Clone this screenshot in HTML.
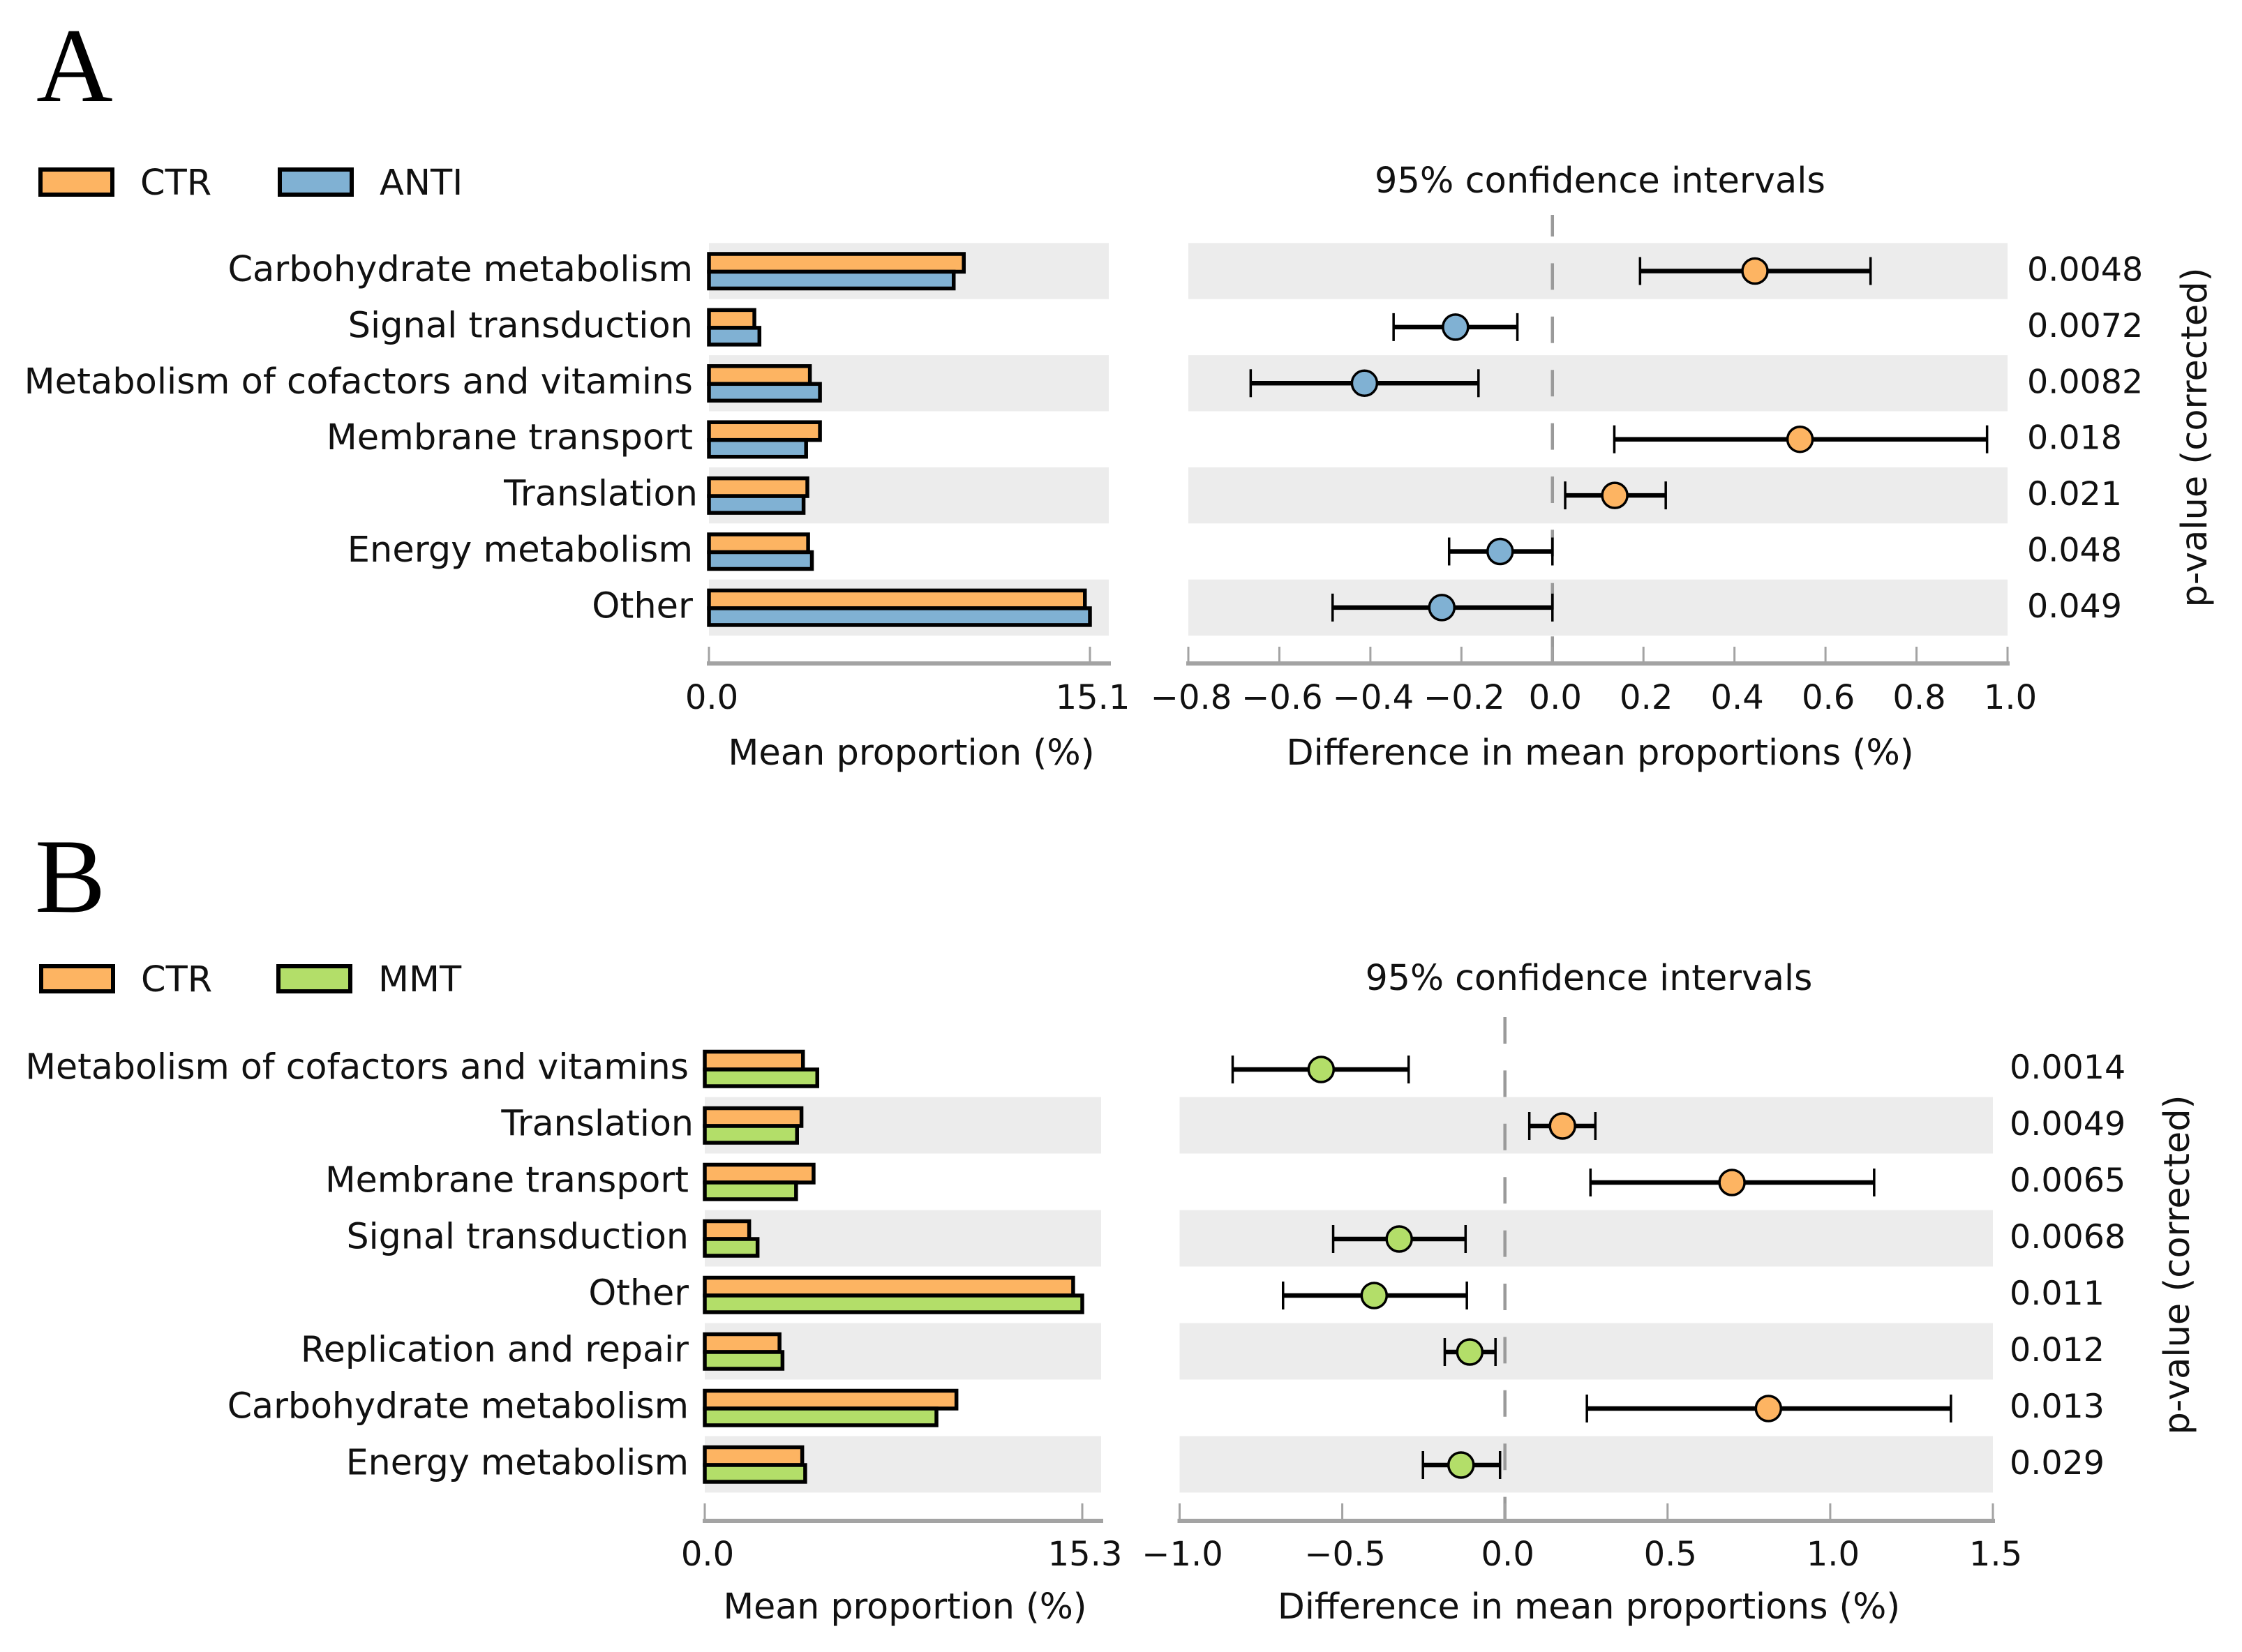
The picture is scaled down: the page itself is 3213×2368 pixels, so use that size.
<!DOCTYPE html>
<html lang="en">
<head>
<meta charset="utf-8">
<title>Mean proportion and difference in mean proportions</title>
<style>
  html, body { margin: 0; padding: 0; background: #fff; }
  svg { display: block; }
  text { font-family: "DejaVu Sans", "Liberation Sans", sans-serif; fill: #111; }
  .letter { font-family: "Liberation Serif", serif; font-size: 152px; fill: #000; }
</style>
</head>
<body>
<svg id="chart" xmlns="http://www.w3.org/2000/svg" width="3213" height="2368" viewBox="0 0 3213 2368">
  <rect x="0" y="0" width="3213" height="2368" fill="#fff"/>
  <text class="letter" x="52" y="145">A</text>
  <text class="letter" x="50" y="1307">B</text>
</svg>
<script>
// Panel A data
const categoriesA = ["Carbohydrate metabolism", "Signal transduction", "Metabolism of cofactors and vitamins", "Membrane transport", "Translation", "Energy metabolism", "Other"];
const ctrMeansA = [10.1, 1.8, 4.0, 4.4, 3.9, 3.93, 14.9];
const antiMeansA = [9.7, 2.0, 4.4, 3.85, 3.75, 4.08, 15.1];
const diffMeansA = [0.445, -0.213, -0.413, 0.544, 0.137, -0.115, -0.243];
const diffLowA = [0.1925, -0.349, -0.663, 0.136, 0.028, -0.227, -0.483];
const diffHighA = [0.699, -0.077, -0.1625, 0.955, 0.249, 0, 0];
const pValuesA = ["0.0048", "0.0072", "0.0082", "0.018", "0.021", "0.048", "0.049"];
const meanTicksA = [0, 15.1];
const meanTickLabelsA = ["0.0", "15.1"];
const diffTicksA = [-0.8, -0.6, -0.4, -0.2, 0, 0.2, 0.4, 0.6, 0.8, 1];
const diffTickLabelsA = ["\u22120.8", "\u22120.6", "\u22120.4", "\u22120.2", "0.0", "0.2", "0.4", "0.6", "0.8", "1.0"];

// Panel B data
const categoriesB = ["Metabolism of cofactors and vitamins", "Translation", "Membrane transport", "Signal transduction", "Other", "Replication and repair", "Carbohydrate metabolism", "Energy metabolism"];
const ctrMeansB = [3.98, 3.92, 4.41, 1.8, 14.93, 3.03, 10.2, 3.95];
const mmtMeansB = [4.56, 3.74, 3.7, 2.14, 15.3, 3.15, 9.39, 4.07];
const diffMeansB = [-0.565, 0.177, 0.698, -0.325, -0.402, -0.108, 0.81, -0.135];
const diffLowB = [-0.837, 0.075, 0.263, -0.528, -0.682, -0.185, 0.252, -0.252];
const diffHighB = [-0.296, 0.278, 1.135, -0.121, -0.117, -0.029, 1.371, -0.015];
const pValuesB = ["0.0014", "0.0049", "0.0065", "0.0068", "0.011", "0.012", "0.013", "0.029"];
const meanTicksB = [0, 15.3];
const meanTickLabelsB = ["0.0", "15.3"];
const diffTicksB = [-1, -0.5, 0, 0.5, 1, 1.5];
const diffTickLabelsB = ["\u22121.0", "\u22120.5", "0.0", "0.5", "1.0", "1.5"];

const CTR_COLOR = "#fdb462";
const BLUE_COLOR = "#80b1d3";
const GREEN_COLOR = "#b3de69";
const BAND_COLOR = "#ececec";
const AXIS_COLOR = "#a3a3a3";
const TICK_FONT = 48;
const P_FONT = 47.5;
const NS = "http://www.w3.org/2000/svg";
const svg = document.getElementById("chart");

function make(tag, attrs, text) {
  const node = document.createElementNS(NS, tag);
  for (const key in attrs) node.setAttribute(key, attrs[key]);
  if (text !== undefined) node.textContent = text;
  svg.appendChild(node);
  return node;
}
function linear(d0, r0, d1, r1) {
  return function (v) { return r0 + (v - d0) * (r1 - r0) / (d1 - d0); };
}
function slug(s) {
  return s.toLowerCase().replace(/[^a-z0-9]+/g, "-").replace(/^-|-$/g, "");
}

function drawAxis(p, name, ticks, labels, scale, xStart, xEnd, title, titleX) {
  const line = make("rect", { x: xStart, y: p.axisY - 3, width: xEnd - xStart, height: 6, fill: AXIS_COLOR });
  
  
  ticks.forEach(function (t, i) {
    const x = scale(t);
    const tick = make("line", { x1: x, x2: x, y1: p.tickTop, y2: p.axisY, stroke: AXIS_COLOR, "stroke-width": 3 });
    
    
    const label = make("text", { x: x + 4, y: p.tickBaseline, "text-anchor": "middle", "font-size": TICK_FONT }, labels[i]);
    
    
  });
  const axisTitle = make("text", { x: titleX, y: p.titleBaseline, "text-anchor": "middle", "font-size": p.textFont }, title);
  
  
}

function drawPanel(p) {
  const xMean = linear(0, p.barX0, p.meanTicks[1], p.barXMax);
  const xDiff = linear(p.diffTicks[0], p.ciX0, p.diffTicks[p.diffTicks.length - 1], p.ciX1);
  const rowY = function (i) { return p.rowCenter + i * p.rowStep; };

  // legend
  [[p.legendX[0], "CTR", CTR_COLOR], [p.legendX[1], p.groupName, p.groupColor]].forEach(function (entry) {
    const swatch = make("rect", { x: entry[0], y: p.legendY, width: 103, height: p.legendH, fill: entry[2], stroke: "#000", "stroke-width": 6 });
    
    
    const label = make("text", { x: entry[0] + 143, y: p.legendY + p.legendH / 2 + 18, "font-size": 51 }, entry[1]);
    
    
  });

  // alternating row bands
  p.categories.forEach(function (c, i) {
    if (i % 2 !== p.bandParity) return;
    const top = rowY(i) - p.rowStep / 2;
    const left = make("rect", { x: p.barX0, y: top, width: p.bandRight - p.barX0, height: p.rowStep, fill: BAND_COLOR });
    
    
    const right = make("rect", { x: p.ciX0, y: top, width: p.ciX1 - p.ciX0, height: p.rowStep, fill: BAND_COLOR });
    
    
  });

  // zero reference line
  const zero = make("line", { x1: xDiff(0), x2: xDiff(0), y1: p.dashTop, y2: p.axisY, stroke: "#9a9a9a", "stroke-width": 4.5, "stroke-dasharray": "38 38.4", "stroke-dashoffset": p.dashOffset });
  
  

  // rows
  p.categories.forEach(function (c, i) {
    const y = rowY(i);
    const rowSlug = slug(p.id + "-" + c);
    const isTranslation = c === "Translation";
    const catLabel = make("text", { x: p.labelRight + (isTranslation ? 7 : 0), y: y + 14.5, "text-anchor": "end", "font-size": p.textFont }, c);
    
    

    const ctrBar = make("rect", { x: xMean(0), y: y - 24.5, width: xMean(p.ctr[i]) - xMean(0), height: 25.5, fill: CTR_COLOR, stroke: "#000", "stroke-width": 5.5 });
    
    
    const groupBar = make("rect", { x: xMean(0), y: y + 1, width: xMean(p.group[i]) - xMean(0), height: 24, fill: p.groupColor, stroke: "#000", "stroke-width": 5.5 });
    
    

    const ciY = y + p.ciShift;
    const lo = xDiff(p.low[i]);
    const hi = xDiff(p.high[i]);
    const ciLine = make("line", { x1: lo, x2: hi, y1: ciY, y2: ciY, stroke: "#000", "stroke-width": 6.5 });
    
    
    const capLow = make("line", { x1: lo, x2: lo, y1: ciY - 20, y2: ciY + 20, stroke: "#000", "stroke-width": 3.5 });
    
    
    const capHigh = make("line", { x1: hi, x2: hi, y1: ciY - 20, y2: ciY + 20, stroke: "#000", "stroke-width": 3.5 });
    
    
    const point = make("circle", { cx: xDiff(p.diff[i]), cy: ciY, r: 18, fill: p.diff[i] >= 0 ? CTR_COLOR : p.groupColor, stroke: "#000", "stroke-width": 3.5 });
    
    

    const pText = make("text", { x: p.pX, y: y + 14, "font-size": P_FONT }, p.pValues[i]);
    
    
  });

  drawAxis(p, "mean", p.meanTicks, p.meanLabels, xMean, p.barX0 - 3, p.bandRight + 3, "Mean proportion (%)", p.meanTitleX);
  drawAxis(p, "diff", p.diffTicks, p.diffLabels, xDiff, p.ciX0 - 3, p.ciX1 + 3, "Difference in mean proportions (%)", p.diffTitleX);

  const ciTitle = make("text", { x: p.diffTitleX, y: p.ciTitleBaseline, "text-anchor": "middle", "font-size": p.textFont }, "95% confidence intervals");
  
  

  const yTitle = make("text", { x: 0, y: 0, "text-anchor": "middle", "font-size": 51, transform: "translate(" + p.pTitleX + " " + p.pTitleY + ") rotate(-90)" }, "p-value (corrected)");
  
  
}

drawPanel({
  id: "panel-a", groupName: "ANTI", groupColor: BLUE_COLOR, textFont: 51,
  categories: categoriesA, ctr: ctrMeansA, group: antiMeansA, diff: diffMeansA, low: diffLowA, high: diffHighA,
  pValues: pValuesA, meanTicks: meanTicksA, meanLabels: meanTickLabelsA, diffTicks: diffTicksA, diffLabels: diffTickLabelsA,
  legendX: [58, 401], legendY: 243, legendH: 36,
  rowCenter: 388.5, rowStep: 80.4, bandParity: 0, ciShift: 0,
  barX0: 1016, barXMax: 1562, bandRight: 1589, ciX0: 1703, ciX1: 2877,
  labelRight: 993, pX: 2905, axisY: 951, tickTop: 927, tickBaseline: 1016, titleBaseline: 1096,
  ciTitleBaseline: 276, meanTitleX: 1306, diffTitleX: 2293, pTitleX: 3162, pTitleY: 627,
  dashTop: 308, dashOffset: 7
});
drawPanel({
  id: "panel-b", groupName: "MMT", groupColor: GREEN_COLOR, textFont: 50.6,
  categories: categoriesB, ctr: ctrMeansB, group: mmtMeansB, diff: diffMeansB, low: diffLowB, high: diffHighB,
  pValues: pValuesB, meanTicks: meanTicksB, meanLabels: meanTickLabelsB, diffTicks: diffTicksB, diffLabels: diffTickLabelsB,
  legendX: [59, 399], legendY: 1385, legendH: 36,
  rowCenter: 1532, rowStep: 81, bandParity: 1, ciShift: 1,
  barX0: 1010, barXMax: 1551, bandRight: 1578, ciX0: 1690.5, ciX1: 2856,
  labelRight: 987, pX: 2880, axisY: 2180, tickTop: 2155, tickBaseline: 2244, titleBaseline: 2320,
  ciTitleBaseline: 1419, meanTitleX: 1297, diffTitleX: 2277, pTitleX: 3137, pTitleY: 1813,
  dashTop: 1458, dashOffset: 0
});
</script>
</body>
</html>
